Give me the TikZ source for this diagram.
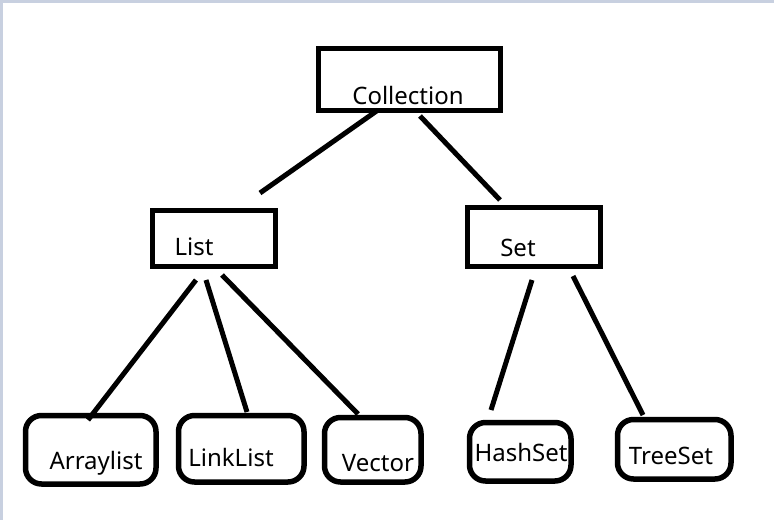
\documentclass[tikz,border=0pt]{standalone}
\usepackage{fontspec}
\setmainfont{Noto Sans}
\definecolor{edgeblue}{HTML}{C8D0E0}
\begin{document}
\begin{tikzpicture}[x=1pt,y=-1pt,
  sqbox/.style={draw=black,line width=5pt,rectangle,inner sep=0pt},
  rbox/.style={draw=black,line width=5.5pt,rectangle,rounded corners=16pt,inner sep=0pt},
  lbl/.style={font=\fontsize{24}{28}\selectfont,inner sep=0pt,anchor=base},
  conn/.style={line width=5pt,line cap=butt}]
\useasboundingbox (0,0) rectangle (774,520);
\fill[white] (0,0) rectangle (774,520);
\fill[edgeblue] (0,0) rectangle (774,3);
\fill[edgeblue] (0,0) rectangle (3,520);
% boxes
\draw[sqbox] (318.5,48.5) rectangle (500,110);
\node[lbl] (coll) at (408,104) {Collection};
\draw[sqbox] (152.5,210.5) rectangle (275,266);
\node[lbl] (list) at (194,255) {List};
\draw[sqbox] (467.5,207.5) rectangle (600,266);
\node[lbl] (set) at (518,256) {Set};
\draw[rbox] (25.5,415.5) rectangle (156,484);
\node[lbl] (arr) at (96,469) {Arraylist};
\draw[rbox] (178.5,415.5) rectangle (304,482);
\node[lbl] (link) at (231,466) {LinkList};
\draw[rbox] (324.5,417.5) rectangle (421,482);
\node[lbl] (vec) at (378,471) {Vector};
\draw[rbox] (469.5,422.5) rectangle (571,481);
\node[lbl] (hash) at (521,461) {HashSet};
\draw[rbox] (617.5,419.5) rectangle (731,479);
\node[lbl] (tree) at (671,464) {TreeSet};
% connector end points
\coordinate (c1) at (378,110);
\coordinate (l0) at (260,193);
\coordinate (c2) at (420,116);
\coordinate (s0) at (500,200);
\coordinate (l1) at (196,280);
\coordinate (a0) at (88,420);
\coordinate (l2) at (206,280);
\coordinate (k0) at (247,412);
\coordinate (l3) at (222,275);
\coordinate (v0) at (358,414);
\coordinate (s1) at (532,280);
\coordinate (h0) at (491,410);
\coordinate (s2) at (573,276);
\coordinate (t0) at (643,415);
\draw[conn] (c1) -- (l0);
\draw[conn] (c2) -- (s0);
\draw[conn] (l1) -- (a0);
\draw[conn] (l2) -- (k0);
\draw[conn] (l3) -- (v0);
\draw[conn] (s1) -- (h0);
\draw[conn] (s2) -- (t0);
\end{tikzpicture}
\end{document}
